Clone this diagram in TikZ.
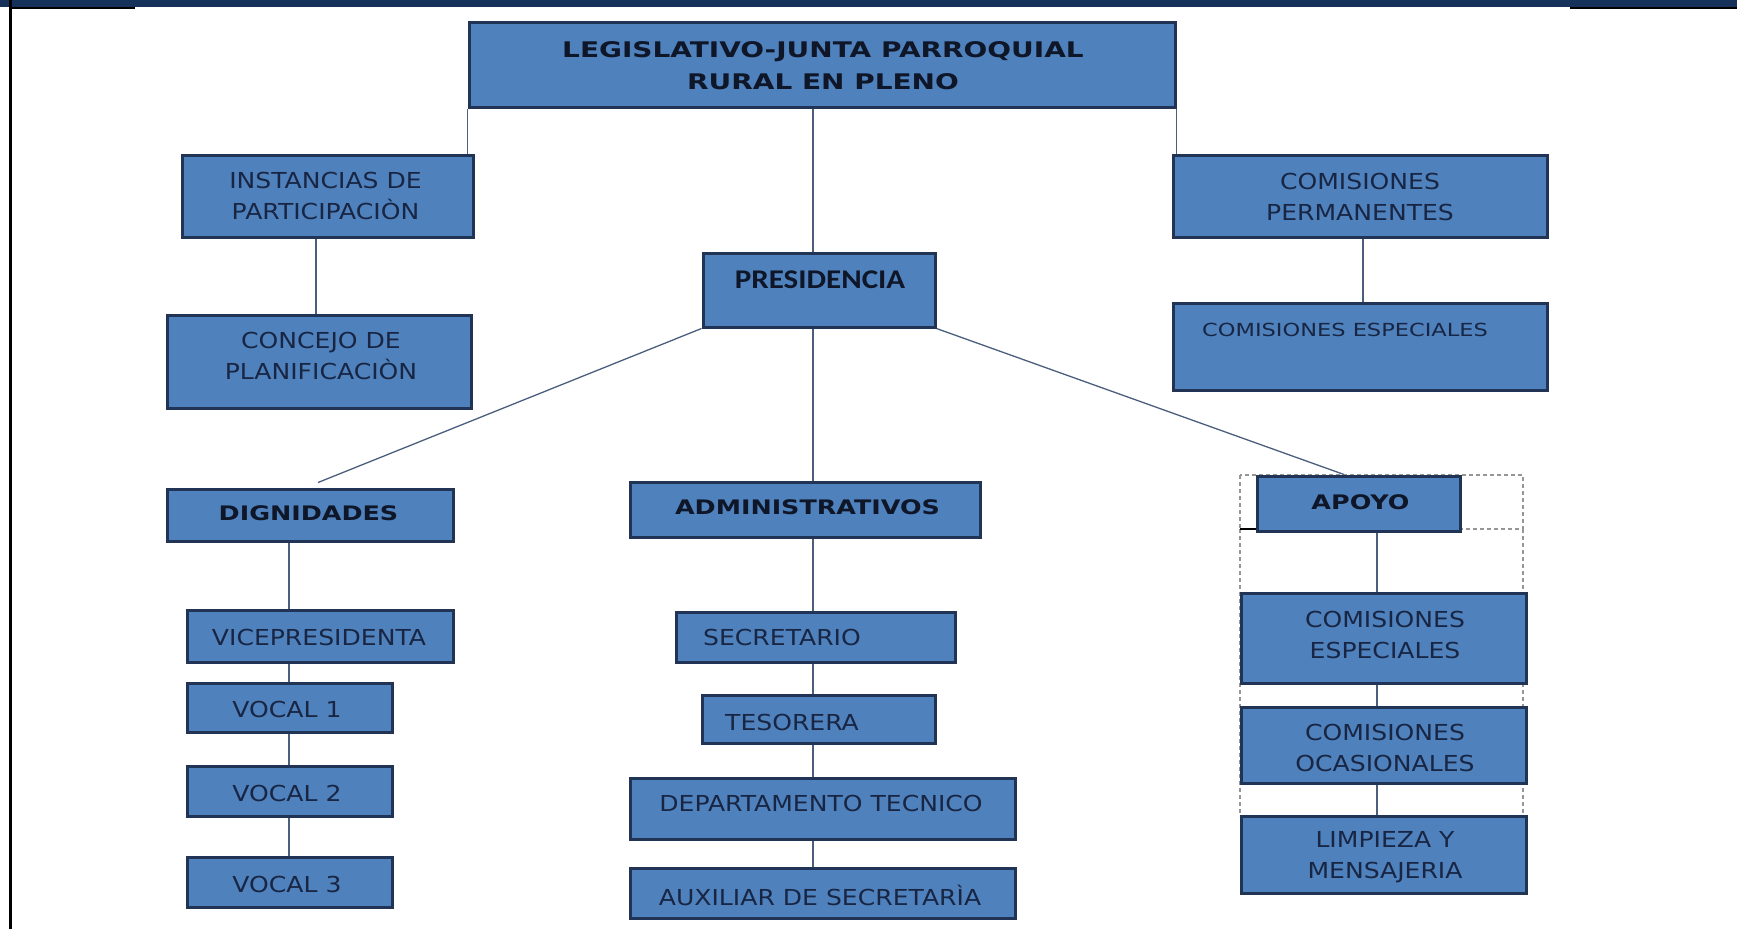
\documentclass[tikz,border=0pt]{standalone}
\usepackage{fontspec}
\usetikzlibrary{backgrounds,calc}
\newfontfamily\vfont[FakeStretch=1.14]{DejaVu Sans}
\newfontfamily\vsfont[FakeStretch=1.25]{DejaVu Sans}
\newfontfamily\vbfont[FakeStretch=1.27]{DejaVu Sans}
\newfontfamily\vtfont[FakeStretch=1.3]{DejaVu Sans}
\newfontfamily\cfont[FakeStretch=1.15]{Carlito}
\definecolor{boxfill}{RGB}{79,129,189}
\definecolor{boxline}{RGB}{33,52,86}
\definecolor{txtcol}{RGB}{24,38,68}
\definecolor{boldcol}{RGB}{14,22,40}
\definecolor{conncol}{RGB}{75,95,125}
\definecolor{navybar}{RGB}{23,50,90}
\definecolor{dashcol}{RGB}{150,150,150}
\newcommand\orgbox[5]{\node[box,minimum width=#4pt,minimum height=#5pt] (#1) at (#2,#3) {};}
\newcommand\rgfont{\vfont\fontsize{22}{31}\selectfont}
\newcommand\bdfont{\vbfont\bfseries\fontsize{20}{28}\selectfont}
\newcommand\tpfont{\vtfont\bfseries\fontsize{21.5}{32}\selectfont}
\newcommand\clfont{\cfont\bfseries\fontsize{27}{32}\selectfont}
\newcommand\smfont{\vsfont\fontsize{18}{24}\selectfont}
\begin{document}
\begin{tikzpicture}[x=1pt,y=-1pt,
  box/.style={draw=boxline,line width=3pt,fill=boxfill,inner sep=0pt},
  txt/.style={text=txtcol,align=center,inner sep=0pt},
  btxt/.style={text=boldcol,align=center,inner sep=0pt},
  conn/.style={draw=conncol,line width=1.3pt},
  dashline/.style={draw=dashcol,line width=1.3pt,dash pattern=on 4pt off 3pt}]
\useasboundingbox (0,0) rectangle (1737,929);
% header bar and frame
\fill[navybar] (0,0) rectangle (1737,7);
\fill[black] (10,7) rectangle (135,8.5);
\fill[black] (1570,7) rectangle (1737,8.5);
\fill[black] (9,0) rectangle (11.5,929);

% boxes
\orgbox{top}{822}{64.5}{706}{85}
\orgbox{pres}{819}{290}{232}{74}
\orgbox{inst}{327.5}{196}{291}{82}
\orgbox{conc}{319}{361.5}{304}{93}
\orgbox{perm}{1360}{196}{374}{82}
\orgbox{cesp}{1360}{346.5}{374}{87}
\orgbox{dign}{310}{515}{286}{52}
\orgbox{adm}{805}{509.5}{350}{55}
\orgbox{apoyo}{1358.5}{503.5}{203}{55}
\orgbox{vice}{320}{636}{266}{52}
\orgbox{vuno}{289.5}{707.5}{205}{49}
\orgbox{vdos}{289.5}{791}{205}{50}
\orgbox{vtres}{289.5}{882}{205}{50}
\orgbox{secr}{815.5}{637}{279}{50}
\orgbox{teso}{818.5}{719}{233}{48}
\orgbox{dept}{822.5}{808.5}{385}{61}
\orgbox{aux}{822.5}{893}{385}{50}
\orgbox{cespb}{1383.5}{638}{285}{90}
\orgbox{cocas}{1383.5}{745}{285}{76}
\orgbox{limp}{1383.5}{854.5}{285}{77}

% texts
\node[btxt,font=\tpfont] (top-t) at (823,66) {LEGISLATIVO-JUNTA PARROQUIAL\\RURAL EN PLENO};
\node[btxt,font=\clfont] (pres-t) at (820,280) {PRESIDENCIA};
\node[txt,font=\rgfont] (inst-t) at (325.5,196) {INSTANCIAS DE\\PARTICIPACIÒN};
\node[txt,font=\rgfont] (conc-t) at (321,356) {CONCEJO DE\\PLANIFICACIÒN};
\node[txt,font=\rgfont] (perm-t) at (1360,197) {COMISIONES\\PERMANENTES};
\node[txt,font=\smfont] (cesp-t) at (1345,330) {COMISIONES ESPECIALES};
\node[btxt,font=\bdfont] (dign-t) at (308.5,513) {DIGNIDADES};
\node[btxt,font=\bdfont] (adm-t) at (807.5,507) {ADMINISTRATIVOS};
\node[btxt,font=\bdfont] (apoyo-t) at (1360.5,502) {APOYO};
\node[txt,font=\rgfont] (vice-t) at (319,637) {VICEPRESIDENTA};
\node[txt,font=\rgfont] (vuno-t) at (287,709) {VOCAL 1};
\node[txt,font=\rgfont] (vdos-t) at (287,793) {VOCAL 2};
\node[txt,font=\rgfont] (vtres-t) at (287,884) {VOCAL 3};
\node[txt,font=\rgfont] (secr-t) at (782,637) {SECRETARIO};
\node[txt,font=\rgfont] (teso-t) at (792,722) {TESORERA};
\node[txt,font=\rgfont] (dept-t) at (821,803) {DEPARTAMENTO TECNICO};
\node[txt,font=\rgfont] (aux-t) at (820,895) {AUXILIAR DE SECRETARÌA};
\node[txt,font=\rgfont] (cespb-t) at (1385,634.5) {COMISIONES\\ESPECIALES};
\node[txt,font=\rgfont] (cocas-t) at (1385,747.5) {COMISIONES\\OCASIONALES};
\node[txt,font=\rgfont] (limp-t) at (1385,857.5) {LIMPIEZA Y\\MENSAJERIA};

\begin{pgfonlayer}{background}
  \fill[white] (0,0) rectangle (1737,929);
  % dashed group frame
  \draw[dashline] (1240,475) rectangle (1523,529);
  \draw[dashline] (1240,529) -- (1240,816);
  \draw[dashline] (1523,529) -- (1523,816);
  \draw[black,line width=2pt] (1240,529) -- (1257,529);
  % connectors
  \draw[conn] (top.south west) -- (top.south west |- inst.north);
  \draw[conn] (top.south east) -- (top.south east |- perm.north);
  \coordinate (cx) at (813,0);
  \draw[conn] (top.south -| cx) -- (adm.north -| cx);
  \draw[conn] (adm.south -| cx) -- (aux.north -| cx);
  \coordinate (dx) at (289,0);
  \draw[conn] (dign.south -| dx) -- (vtres.north -| dx);
  \coordinate (ix) at (316,0);
  \draw[conn] (inst.south -| ix) -- (conc.north -| ix);
  \coordinate (px) at (1363,0);
  \draw[conn] (perm.south -| px) -- (cesp.north -| px);
  \coordinate (ax) at (1377,0);
  \draw[conn] (apoyo.south -| ax) -- (limp.north -| ax);
  \draw[conn] (pres.south west) -- ($(dign.north)+(8,-5)$);
  \draw[conn] (pres.south east) -- ($(apoyo.north)+(-14.5,0)$);
\end{pgfonlayer}
\end{tikzpicture}
\end{document}
